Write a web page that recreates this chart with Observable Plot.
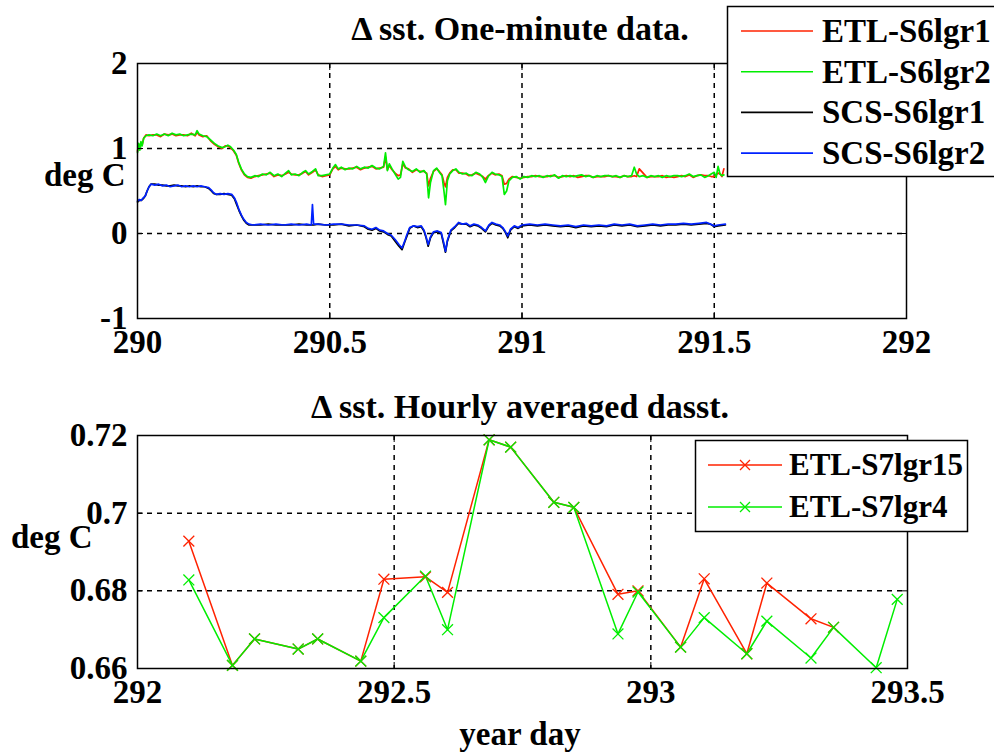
<!DOCTYPE html>
<html>
<head>
<meta charset="utf-8">
<script src="https://cdn.jsdelivr.net/npm/d3@7"></script>
<script src="https://cdn.jsdelivr.net/npm/@observablehq/plot@0.6"></script>
<style>
  html, body { margin: 0; padding: 0; background: #fff; }
  #wrap { position: relative; width: 994px; height: 752px; overflow: hidden; background: #fff;
          font-family: "Liberation Serif", serif; font-weight: bold; }
  .lbl { position: absolute; white-space: nowrap; color: #000; }
  #wrap svg text { font-family: "Liberation Serif", serif !important; font-weight: bold; }
</style>
</head>
<body>
<div id="wrap"></div>
<script>
// ---------- Top panel: one-minute data ----------
const etlDay = [290.000,290.003,290.006,290.009,290.012,290.016,290.022,290.030,290.040,290.050,290.060,290.070,290.080,290.090,290.100,290.110,290.120,290.130,290.140,290.150,290.155,290.160,290.170,290.180,290.190,290.200,290.210,290.220,290.228,290.235,290.242,290.250,290.257,290.263,290.270,290.278,290.286,290.295,290.305,290.315,290.325,290.335,290.345,290.355,290.365,290.375,290.385,290.393,290.400,290.410,290.420,290.430,290.437,290.445,290.455,290.463,290.470,290.480,290.490,290.500,290.508,290.515,290.522,290.530,290.540,290.550,290.560,290.570,290.580,290.590,290.600,290.610,290.620,290.630,290.640,290.645,290.650,290.655,290.662,290.670,290.678,290.684,290.690,290.697,290.705,290.715,290.725,290.735,290.745,290.752,290.757,290.762,290.770,290.778,290.785,290.792,290.797,290.801,290.806,290.812,290.820,290.828,290.836,290.845,290.855,290.862,290.870,290.880,290.890,290.898,290.905,290.912,290.922,290.930,290.940,290.948,290.954,290.960,290.966,290.975,290.985,290.995,291.005,291.015,291.025,291.035,291.045,291.055,291.065,291.075,291.085,291.095,291.105,291.115,291.125,291.135,291.145,291.155,291.165,291.175,291.185,291.195,291.205,291.215,291.225,291.235,291.245,291.255,291.265,291.275,291.285,291.292,291.298,291.305,291.315,291.325,291.335,291.345,291.355,291.365,291.375,291.385,291.395,291.405,291.415,291.425,291.435,291.445,291.455,291.465,291.475,291.485,291.492,291.500,291.505,291.510,291.515,291.520,291.525];
const etlS6lgr1 = [0.97,1.05,1.00,1.07,1.04,1.12,1.16,1.15,1.16,1.16,1.14,1.17,1.16,1.17,1.15,1.16,1.16,1.15,1.18,1.15,1.19,1.16,1.14,1.15,1.09,1.05,1.02,1.00,1.03,1.03,1.01,0.97,0.92,0.83,0.75,0.69,0.66,0.65,0.67,0.68,0.69,0.70,0.71,0.67,0.69,0.68,0.70,0.72,0.70,0.69,0.69,0.71,0.73,0.69,0.72,0.75,0.69,0.67,0.68,0.69,0.76,0.79,0.75,0.77,0.76,0.76,0.77,0.78,0.75,0.77,0.78,0.79,0.76,0.77,0.78,0.90,0.75,0.80,0.75,0.71,0.68,0.69,0.82,0.77,0.76,0.72,0.75,0.73,0.73,0.71,0.56,0.65,0.73,0.76,0.73,0.69,0.60,0.55,0.66,0.71,0.75,0.75,0.71,0.71,0.70,0.68,0.69,0.71,0.69,0.67,0.64,0.68,0.71,0.69,0.70,0.68,0.58,0.59,0.64,0.67,0.66,0.65,0.66,0.67,0.67,0.68,0.67,0.67,0.67,0.68,0.68,0.66,0.67,0.68,0.67,0.68,0.66,0.67,0.68,0.68,0.66,0.67,0.67,0.67,0.68,0.67,0.67,0.66,0.68,0.67,0.67,0.68,0.67,0.76,0.71,0.66,0.67,0.67,0.67,0.68,0.66,0.67,0.66,0.67,0.68,0.67,0.69,0.66,0.68,0.69,0.68,0.68,0.67,0.67,0.69,0.71,0.70,0.67,0.76,0.69,0.69,0.68];
const etlS6lgr2 = [0.95,1.06,0.98,1.08,1.03,1.12,1.15,1.16,1.15,1.17,1.15,1.17,1.15,1.18,1.16,1.17,1.15,1.16,1.17,1.16,1.21,1.17,1.15,1.14,1.10,1.06,1.03,1.01,1.02,1.04,1.02,0.98,0.93,0.84,0.76,0.70,0.67,0.66,0.68,0.67,0.70,0.69,0.72,0.68,0.70,0.67,0.71,0.74,0.69,0.70,0.68,0.72,0.74,0.70,0.73,0.76,0.68,0.68,0.69,0.70,0.77,0.81,0.76,0.78,0.75,0.77,0.76,0.79,0.76,0.78,0.77,0.80,0.77,0.76,0.79,0.95,0.74,0.82,0.76,0.70,0.64,0.66,0.85,0.78,0.75,0.73,0.76,0.72,0.74,0.70,0.42,0.60,0.74,0.77,0.72,0.68,0.50,0.34,0.62,0.70,0.74,0.76,0.72,0.70,0.71,0.69,0.68,0.72,0.70,0.66,0.60,0.67,0.72,0.70,0.69,0.67,0.46,0.50,0.62,0.66,0.67,0.64,0.67,0.66,0.68,0.67,0.68,0.66,0.68,0.67,0.69,0.65,0.68,0.67,0.68,0.67,0.68,0.69,0.67,0.68,0.66,0.68,0.67,0.68,0.68,0.67,0.68,0.66,0.68,0.67,0.68,0.78,0.70,0.67,0.68,0.66,0.68,0.67,0.68,0.66,0.68,0.67,0.68,0.68,0.67,0.68,0.70,0.67,0.68,0.69,0.66,0.68,0.70,0.72,0.66,0.79,0.70,0.68,0.69];

const scsDay = [290.000,290.005,290.010,290.015,290.020,290.025,290.030,290.035,290.045,290.055,290.065,290.075,290.085,290.095,290.105,290.115,290.125,290.135,290.145,290.155,290.165,290.175,290.185,290.192,290.198,290.205,290.215,290.225,290.235,290.245,290.252,290.258,290.264,290.270,290.276,290.283,290.290,290.300,290.320,290.340,290.360,290.380,290.400,290.420,290.440,290.452,290.455,290.458,290.470,290.490,290.510,290.530,290.550,290.570,290.590,290.600,290.610,290.620,290.630,290.640,290.650,290.660,290.670,290.680,290.688,290.695,290.700,290.708,290.718,290.728,290.738,290.745,290.750,290.756,290.762,290.770,290.780,290.790,290.796,290.801,290.806,290.815,290.825,290.835,290.845,290.855,290.865,290.875,290.885,290.895,290.905,290.914,290.922,290.932,290.942,290.950,290.957,290.963,290.970,290.980,290.990,291.000,291.020,291.040,291.060,291.080,291.100,291.120,291.140,291.160,291.180,291.200,291.220,291.240,291.260,291.280,291.300,291.320,291.340,291.360,291.380,291.400,291.420,291.440,291.460,291.480,291.490,291.500,291.510,291.529];
const scsS6lgr1 = [0.37,0.39,0.39,0.41,0.44,0.50,0.55,0.58,0.58,0.57,0.57,0.56,0.56,0.57,0.56,0.56,0.55,0.56,0.55,0.56,0.55,0.55,0.53,0.50,0.47,0.46,0.46,0.47,0.46,0.45,0.41,0.34,0.27,0.21,0.16,0.12,0.10,0.10,0.10,0.11,0.10,0.10,0.10,0.11,0.10,0.10,0.10,0.10,0.11,0.10,0.10,0.11,0.09,0.10,0.08,0.05,0.04,0.06,0.03,0.02,-0.01,-0.03,-0.09,-0.15,-0.19,-0.10,-0.04,0.06,0.09,0.07,0.08,0.03,-0.04,-0.15,-0.05,0.01,0.02,0.00,-0.12,-0.22,-0.09,0.03,0.07,0.12,0.11,0.11,0.08,0.10,0.09,0.06,0.02,0.09,0.12,0.10,0.09,0.06,0.01,-0.05,0.04,0.08,0.06,0.09,0.10,0.09,0.10,0.09,0.08,0.09,0.07,0.09,0.08,0.09,0.08,0.10,0.09,0.10,0.08,0.09,0.10,0.09,0.10,0.10,0.11,0.10,0.11,0.12,0.11,0.08,0.09,0.10];
const scsS6lgr2 = [0.38,0.40,0.39,0.42,0.44,0.50,0.55,0.58,0.57,0.58,0.56,0.57,0.55,0.56,0.57,0.55,0.56,0.55,0.56,0.55,0.56,0.55,0.54,0.51,0.48,0.46,0.47,0.46,0.47,0.46,0.42,0.36,0.28,0.22,0.17,0.13,0.11,0.10,0.11,0.10,0.11,0.10,0.11,0.10,0.11,0.10,0.34,0.11,0.11,0.10,0.11,0.11,0.10,0.10,0.09,0.06,0.05,0.07,0.04,0.03,0.00,-0.02,-0.07,-0.13,-0.17,-0.09,-0.02,0.07,0.09,0.08,0.09,0.04,-0.03,-0.13,-0.04,0.02,0.03,0.01,-0.10,-0.21,-0.08,0.04,0.08,0.13,0.11,0.12,0.09,0.11,0.10,0.07,0.03,0.10,0.13,0.11,0.10,0.07,0.02,-0.03,0.05,0.09,0.07,0.10,0.11,0.10,0.11,0.10,0.09,0.10,0.08,0.10,0.09,0.10,0.09,0.11,0.10,0.11,0.09,0.10,0.11,0.10,0.11,0.11,0.12,0.11,0.12,0.13,0.11,0.09,0.10,0.11];

const topXTicks = [290, 290.5, 291, 291.5, 292];
const topYTicks = [-1, 0, 1, 2];
const topTitle = "\u0394 sst. One-minute data.";
const topSeries = ["ETL-S6lgr1", "ETL-S6lgr2", "SCS-S6lgr1", "SCS-S6lgr2"];
const topColors = ["#ff2200", "#00ee00", "#000000", "#0022ff"];

// ---------- Bottom panel: hourly averages ----------
const hourDayR = [292.100,292.185,292.228,292.313,292.351,292.435,292.480,292.561,292.604,292.685,292.727,292.811,292.850,292.936,292.975,293.058,293.104,293.187,293.226,293.312,293.356];
const etlS7lgr15 = [0.6928,0.6608,0.6676,0.6650,0.6676,0.6619,0.6830,0.6836,0.6796,0.7189,0.7170,0.7028,0.7015,0.6791,0.6800,0.6655,0.6831,0.6638,0.6820,0.6728,0.6706];
const hourDayG = [292.100,292.185,292.228,292.313,292.351,292.435,292.480,292.561,292.604,292.685,292.727,292.811,292.850,292.936,292.975,293.058,293.104,293.187,293.226,293.312,293.356,293.439,293.480];
const etlS7lgr4 = [0.6828,0.6608,0.6676,0.6650,0.6676,0.6619,0.6731,0.6838,0.6700,0.7189,0.7170,0.7028,0.7015,0.6689,0.6797,0.6655,0.6731,0.6638,0.6722,0.6627,0.6706,0.6602,0.6778];
const botXTicks = [292, 292.5, 293, 293.5];
const botYTicks = [0.66, 0.68, 0.70, 0.72];
const botYLabels = ["0.66", "0.68", "0.7", "0.72"];
const botTitle = "\u0394 sst. Hourly averaged dasst.";
const botSeries = ["ETL-S7lgr15", "ETL-S7lgr4"];
const botColors = ["#ff2200", "#00ee00"];
const xLabel = "year day";
const yLabel = "deg C";

// ---------- build ----------
const FONT = "Liberation Serif, serif";
const wrap = document.getElementById("wrap");

function toRows(xs, ys, name) { return xs.map((x, i) => ({x, y: ys[i], name})); }

const txt = {fontFamily: FONT, fontWeight: "bold", fontSize: 33, fill: "#000"};
const inTick = {tickFormat: () => "", label: null};
function axes(xt, yt, yfmt) {
  return [
    Plot.axisX({ticks: xt, tickSize: 0, tickPadding: 11, tickFormat: d => String(d), label: null, ...txt}),
    Plot.axisY({ticks: yt, tickSize: 0, tickPadding: 10, tickFormat: yfmt, label: null, ...txt}),
    Plot.axisX({ticks: xt, anchor: "bottom", tickSize: -6, ...inTick}),
    Plot.axisX({ticks: xt, anchor: "top", tickSize: -6, ...inTick}),
    Plot.axisY({ticks: yt, anchor: "left", tickSize: -6, ...inTick}),
    Plot.axisY({ticks: yt, anchor: "right", tickSize: -6, ...inTick})
  ];
}

const topData = [
  toRows(etlDay, etlS6lgr1, topSeries[0]),
  toRows(etlDay, etlS6lgr2, topSeries[1]),
  toRows(scsDay, scsS6lgr1, topSeries[2]),
  toRows(scsDay, scsS6lgr2, topSeries[3])
];

const svgStyle = {fontFamily: FONT, fontWeight: "bold", fontSize: "33px", background: "transparent", color: "#000", overflow: "visible"};
const grid = {stroke: "#000", strokeOpacity: 1, strokeDasharray: "5,5", strokeWidth: 1.5};

const topPlot = Plot.plot({
  width: 994, height: 370,
  marginLeft: 137, marginRight: 88, marginTop: 63, marginBottom: 52,
  style: svgStyle,
  x: {domain: [290, 292], label: null},
  y: {domain: [-1, 2], label: null},
  marks: [
    Plot.gridX([290.5, 291, 291.5], grid),
    Plot.gridY([0, 1], grid),
    ...topData.map((d, i) => Plot.line(d, {x: "x", y: "y", stroke: topColors[i], strokeWidth: 1.7})),
    ...axes(topXTicks, topYTicks, d => String(d)),
    Plot.frame({stroke: "#000", strokeWidth: 1.5})
  ]
});
topPlot.style.position = "absolute"; topPlot.style.left = "0px"; topPlot.style.top = "0px";
wrap.appendChild(topPlot);

const botData = [toRows(hourDayR, etlS7lgr15, botSeries[0]), toRows(hourDayG, etlS7lgr4, botSeries[1])];
const botPlot = Plot.plot({
  width: 994, height: 382,
  marginLeft: 137, marginRight: 87, marginTop: 65, marginBottom: 84,
  style: svgStyle,
  x: {domain: [292, 293.5], label: null},
  y: {domain: [0.66, 0.72], label: null},
  marks: [
    Plot.gridX([292.5, 293], grid),
    Plot.gridY([0.68, 0.70], grid),
    ...botData.map((d, i) => Plot.line(d, {x: "x", y: "y", stroke: botColors[i], strokeWidth: 1.5})),
    ...botData.map((d, i) => Plot.dot(d, {x: "x", y: "y", stroke: botColors[i], symbol: "times", r: 5, strokeWidth: 1.3})),
    ...axes(botXTicks, botYTicks, (d, i) => botYLabels[i]),
    Plot.frame({stroke: "#000", strokeWidth: 1.5})
  ]
});
botPlot.style.position = "absolute"; botPlot.style.left = "0px"; botPlot.style.top = "370px";
wrap.appendChild(botPlot);

// ---------- titles / labels ----------
function label(text, left, top, size, extra) {
  const d = document.createElement("div");
  d.className = "lbl";
  d.textContent = text;
  d.style.left = left + "px"; d.style.top = top + "px";
  d.style.fontSize = size + "px";
  d.style.lineHeight = "1";
  if (extra) Object.assign(d.style, extra);
  wrap.appendChild(d);
  return d;
}
label(topTitle, 0, 12, 34, {width: "1040px", textAlign: "center"});
label(botTitle, 0, 390, 34, {width: "1040px", textAlign: "center"});
label(yLabel, 44, 159, 33);
label(yLabel, 11, 521, 33);
label(xLabel, 0, 718, 33, {width: "1040px", textAlign: "center"});

// ---------- legends ----------
const ns = "http://www.w3.org/2000/svg";
const leg = document.createElementNS(ns, "svg");
leg.setAttribute("width", 994); leg.setAttribute("height", 752);
leg.style.position = "absolute"; leg.style.left = "0px"; leg.style.top = "0px";
function el(tag, attrs, text) {
  const e = document.createElementNS(ns, tag);
  for (const k in attrs) e.setAttribute(k, attrs[k]);
  if (text != null) e.textContent = text;
  leg.appendChild(e);
  return e;
}
el("rect", {x: 727.5, y: 6.5, width: 290, height: 170, fill: "#fff", stroke: "#000", "stroke-width": 1.5});
topSeries.forEach((name, i) => {
  const cy = 31 + i * 40.7;
  el("line", {x1: 741, x2: 813, y1: cy, y2: cy, stroke: topColors[i], "stroke-width": 1.6});
  el("text", {x: 822, y: cy + 11, "font-family": FONT, "font-weight": "bold", "font-size": 33, fill: "#000"}, name);
});
el("rect", {x: 695.5, y: 440.5, width: 272, height: 91, fill: "#fff", stroke: "#000", "stroke-width": 1.5});
botSeries.forEach((name, i) => {
  const cy = 465 + i * 42;
  el("line", {x1: 708, x2: 782, y1: cy, y2: cy, stroke: botColors[i], "stroke-width": 1.5});
  el("path", {d: `M${745-5},${cy-5}L${745+5},${cy+5}M${745-5},${cy+5}L${745+5},${cy-5}`, stroke: botColors[i], "stroke-width": 1.3, fill: "none"});
  el("text", {x: 789, y: cy + 10, "font-family": FONT, "font-weight": "bold", "font-size": 31, fill: "#000"}, name);
});
wrap.appendChild(leg);
</script>
</body>
</html>
